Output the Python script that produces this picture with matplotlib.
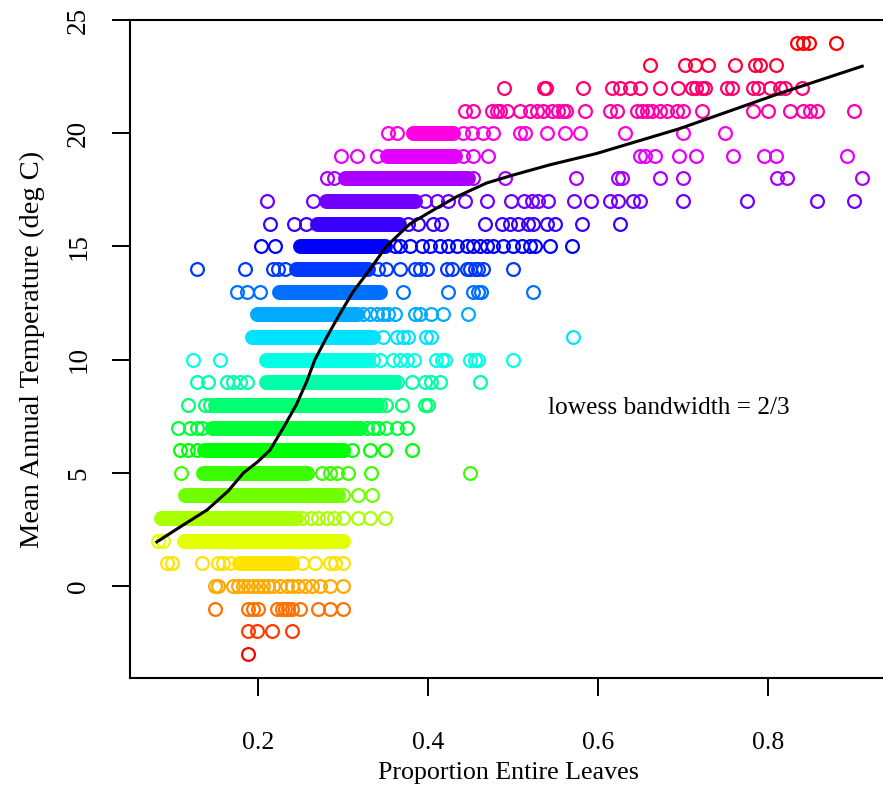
import matplotlib
matplotlib.use("Agg")
import matplotlib.pyplot as plt
from matplotlib.colors import hsv_to_rgb

plt.rcParams['font.family'] = ['Liberation Serif', 'DejaVu Serif']

# x values (proportion entire leaves) of single circles, one list per temperature row
pts = {}
pts[24] = [0.834, 0.841, 0.848, 0.880]
pts[23] = [0.661, 0.702, 0.714, 0.729, 0.761, 0.785, 0.791, 0.809]
pts[22] = [0.490, 0.537, 0.539, 0.582, 0.616, 0.626, 0.638, 0.649, 0.673, 0.694, 0.711,
           0.716, 0.722, 0.726, 0.752, 0.758, 0.782, 0.788, 0.802, 0.814, 0.820, 0.840]
pts[21] = [0.444, 0.453, 0.475, 0.481, 0.485, 0.493, 0.508, 0.520, 0.528, 0.535, 0.546,
           0.553, 0.559, 0.563, 0.585, 0.614, 0.622, 0.646, 0.652, 0.658, 0.664, 0.673,
           0.681, 0.693, 0.700, 0.722, 0.782, 0.800, 0.826, 0.841, 0.849, 0.858, 0.901]
pts[20] = [0.353, 0.363, 0.441, 0.452, 0.465, 0.476, 0.508, 0.514, 0.540, 0.561, 0.579,
           0.632, 0.700, 0.749]
pts[19] = [0.298, 0.317, 0.340, 0.441, 0.453, 0.471, 0.649, 0.655, 0.667, 0.696, 0.716,
           0.759, 0.796, 0.810, 0.893]
pts[18] = [0.281, 0.290, 0.453, 0.491, 0.574, 0.624, 0.628, 0.673, 0.700, 0.811, 0.822, 0.911]
pts[17] = [0.211, 0.265, 0.396, 0.411, 0.424, 0.444, 0.470, 0.498, 0.513, 0.522, 0.530,
           0.541, 0.572, 0.592, 0.614, 0.624, 0.641, 0.649, 0.700, 0.776, 0.858, 0.901]
pts[16] = [0.214, 0.242, 0.256, 0.376, 0.388, 0.406, 0.415, 0.467, 0.487, 0.496, 0.506,
           0.518, 0.524, 0.540, 0.549, 0.581, 0.626]
pts[15] = [0.203, 0.220, 0.361, 0.367, 0.379, 0.393, 0.402, 0.414, 0.424, 0.434, 0.446,
           0.453, 0.461, 0.469, 0.476, 0.488, 0.500, 0.511, 0.520, 0.526, 0.544, 0.569]
pts[14] = [0.128, 0.185, 0.218, 0.224, 0.232, 0.341, 0.351, 0.367, 0.385, 0.391, 0.399,
           0.422, 0.428, 0.446, 0.449, 0.455, 0.459, 0.465, 0.500]
pts[13] = [0.175, 0.187, 0.202, 0.371, 0.424, 0.453, 0.459, 0.463, 0.524]
pts[12] = [0.324, 0.332, 0.340, 0.347, 0.353, 0.361, 0.385, 0.391, 0.404, 0.418, 0.447]
pts[11] = [0.347, 0.363, 0.371, 0.376, 0.398, 0.404, 0.571]
pts[10] = [0.124, 0.155, 0.335, 0.344, 0.359, 0.367, 0.375, 0.383, 0.410, 0.416, 0.420,
           0.449, 0.455, 0.459, 0.500]
pts[9] = [0.128, 0.141, 0.163, 0.171, 0.179, 0.187, 0.363, 0.381, 0.396, 0.404, 0.414, 0.461]
pts[8] = [0.118, 0.138, 0.144, 0.151, 0.300, 0.316, 0.332, 0.344, 0.351, 0.369, 0.396, 0.400]
pts[7] = [0.106, 0.120, 0.128, 0.134, 0.300, 0.312, 0.320, 0.328, 0.335, 0.341, 0.351,
          0.363, 0.375]
pts[6] = [0.108, 0.118, 0.128, 0.288, 0.300, 0.311, 0.332, 0.349, 0.381]
pts[5] = [0.110, 0.258, 0.275, 0.285, 0.293, 0.306, 0.333, 0.449]
pts[4] = [0.238, 0.249, 0.261, 0.285, 0.300, 0.318, 0.334]
pts[3] = [0.119, 0.252, 0.262, 0.271, 0.281, 0.290, 0.300, 0.318, 0.332, 0.349]
pts[2] = [0.082, 0.088, 0.249, 0.265, 0.277, 0.288, 0.300]
pts[1] = [0.093, 0.099, 0.134, 0.153, 0.159, 0.167, 0.252, 0.267, 0.285, 0.291, 0.300]
pts[0] = [0.149, 0.153, 0.171, 0.176, 0.182, 0.188, 0.194, 0.200, 0.206, 0.212, 0.218,
          0.226, 0.234, 0.240, 0.247, 0.255, 0.264, 0.273, 0.285, 0.300]
pts[-1] = [0.149, 0.188, 0.194, 0.200, 0.222, 0.228, 0.232, 0.235, 0.240, 0.249, 0.271,
           0.285, 0.300]
pts[-2] = [0.188, 0.199, 0.216, 0.240]
pts[-3] = [0.188]

# runs of circles so dense they merge into a solid bar (first / last circle centre)
band_temp = [20, 19, 18, 17, 16, 15, 14, 13, 12, 11, 10, 9, 8, 7, 6, 5, 4, 3, 2, 1]
band_start = [0.382, 0.352, 0.302, 0.280, 0.270, 0.250, 0.245, 0.225, 0.199, 0.193,
              0.210, 0.210, 0.150, 0.146, 0.136, 0.135, 0.114, 0.086, 0.113, 0.178]
band_end = [0.430, 0.432, 0.447, 0.385, 0.366, 0.350, 0.330, 0.343, 0.316, 0.335,
            0.330, 0.360, 0.340, 0.320, 0.300, 0.255, 0.294, 0.245, 0.298, 0.240]

# lowess curve
lw_x = [0.081, 0.110, 0.140, 0.165, 0.183, 0.200, 0.214, 0.230, 0.245, 0.257, 0.267,
        0.281, 0.296, 0.312, 0.332, 0.351, 0.379, 0.406, 0.434, 0.469, 0.500, 0.543,
        0.598, 0.696, 0.814, 0.911]
lw_y = [1.95, 2.65, 3.36, 4.2, 5.0, 5.5, 6.0, 7.0, 8.0, 9.0, 10.0, 11.0, 12.0, 13.0,
        14.0, 15.0, 16.0, 16.6, 17.2, 17.8, 18.15, 18.6, 19.1, 20.2, 21.76, 22.96]


def row_color(t):
    # rainbow over the 28 rows, red at -3 round to red again at 24
    return hsv_to_rgb([((t + 3) / 27.0) % 1.0, 1.0, 1.0])


W, H = 883, 789
fig = plt.figure(figsize=(W / 100, H / 100), dpi=100)
ax = fig.add_axes([130 / W, 1 - 678 / H, (886 - 130) / W, (678 - 20) / H])

ms = 9.2
mew = 1.6
for t, s, e in zip(band_temp, band_start, band_end):
    ax.plot([s, e], [t, t], color=row_color(t), lw=ms + mew, solid_capstyle='round')
for t, xs in pts.items():
    ax.plot(xs, [t] * len(xs), 'o', ms=ms, mew=mew, mfc='none', mec=row_color(t), ls='none')

ax.plot(lw_x, lw_y, color='black', lw=2.2)

ax.text(0.683, 7.86, "lowess bandwidth = 2/3", fontsize=18.3, ha='center', va='center')

ax.set_xlim(0.0494, 0.939)
ax.set_ylim(-4.06, 25.0)
ax.set_xticks([0.2, 0.4, 0.6, 0.8])
ax.set_xticklabels(["0.2", "0.4", "0.6", "0.8"], fontsize=18.5)
ax.set_yticks([0, 5, 10, 15, 20, 25])
ax.set_yticklabels(["0", "5", "10", "15", "20", "25"], rotation=90, va='center', fontsize=19.5)
ax.tick_params(length=13, width=1.4, direction='out')
ax.tick_params(axis='x', pad=26)
ax.tick_params(axis='y', pad=15)
for sp in ax.spines.values():
    sp.set_linewidth(1.5)

ax.set_xlabel("Proportion Entire Leaves", fontsize=18.7, labelpad=6)
ax.set_ylabel("Mean Annual Temperature (deg C)", fontsize=20.5, labelpad=15)

fig.savefig("out.png", dpi=100)
